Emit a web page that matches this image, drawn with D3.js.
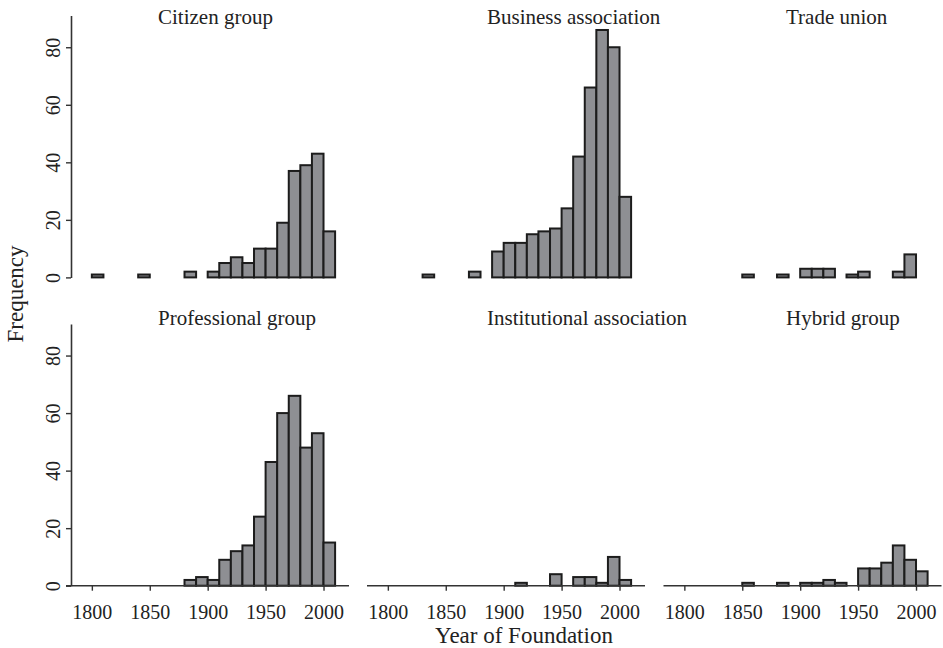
<!DOCTYPE html>
<html>
<head>
<meta charset="utf-8">
<script src="https://cdn.jsdelivr.net/npm/d3@7"></script>
<style>
  body { margin: 0; background: #fff; }
  svg text { font-family: "Liberation Serif", "Times New Roman", Times, "DejaVu Serif", serif; fill: #222; }
</style>
</head>
<body>
<div id="container"></div>
<script>
// start year of each 10-year bin
let binStarts = [1800, 1810, 1820, 1830, 1840, 1850, 1860, 1870, 1880, 1890, 1900,
                 1910, 1920, 1930, 1940, 1950, 1960, 1970, 1980, 1990, 2000];

let groupNames = ["Citizen group", "Business association", "Trade union",
                  "Professional group", "Institutional association", "Hybrid group"];

// frequencies per bin
let citizenCounts      = [1, 0, 0, 0, 1, 0, 0, 0, 2, 0, 2, 5, 7, 5, 10, 10, 19, 37, 39, 43, 16];
let businessCounts     = [0, 0, 0, 1, 0, 0, 0, 2, 0, 9, 12, 12, 15, 16, 17, 24, 42, 66, 86, 80, 28];
let tradeUnionCounts   = [0, 0, 0, 0, 0, 1, 0, 0, 1, 0, 3, 3, 3, 0, 1, 2, 0, 0, 2, 8, 0];
let professionalCounts = [0, 0, 0, 0, 0, 0, 0, 0, 2, 3, 2, 9, 12, 14, 24, 43, 60, 66, 48, 53, 15];
let institutionCounts  = [0, 0, 0, 0, 0, 0, 0, 0, 0, 0, 0, 1, 0, 0, 4, 0, 3, 3, 1, 10, 2];
let hybridCounts       = [0, 0, 0, 0, 0, 1, 0, 0, 1, 0, 1, 1, 2, 1, 0, 6, 6, 8, 14, 9, 5];

let xTickValues = [1800, 1850, 1900, 1950, 2000];
let yTickValues = [0, 20, 40, 60, 80];

let allCounts = [citizenCounts, businessCounts, tradeUnionCounts,
                 professionalCounts, institutionCounts, hybridCounts];

let w = 943;
let h = 648;
let binWidth = 10;
let serif = "'Liberation Serif', 'Times New Roman', Times, 'DejaVu Serif', serif";

// layout of the 3x2 grid
let panelLeft = [71, 367, 663.5];
let panelW = 278;
let rowBase = [277.4, 585.7];
let panelH = 261.8;
let titleX = [158, 487, 786];
let titleY = [24, 325];

let viz = d3.select("#container")
  .append("svg")
    .attr("width", w)
    .attr("height", h)
;

let xScale = d3.scaleLinear().domain([1782, 2022]).range([0, panelW]);

groupNames.forEach(function(name, i){
  let col = i % 3;
  let row = Math.floor(i / 3);
  let yScale = d3.scaleLinear().domain([0, 91]).range([rowBase[row], rowBase[row] - panelH]);

  let panel = viz.append("g")
      .attr("transform", "translate(" + panelLeft[col] + ",0)")
  ;

  let bins = binStarts.map(function(b, j){
    return { start: b, count: allCounts[i][j] };
  }).filter(function(d){ return d.count > 0; });

  panel.selectAll(".bar").data(bins).enter()
    .append("rect")
      .attr("class", "bar")
      .attr("x", function(d){ return xScale(d.start); })
      .attr("width", function(d){ return xScale(d.start + binWidth) - xScale(d.start); })
      .attr("y", function(d){ return yScale(d.count); })
      .attr("height", function(d){ return yScale(0) - yScale(d.count); })
      .attr("fill", "#8e8f93")
      .attr("stroke", "#1c1c1c")
      .attr("stroke-width", 2)
  ;

  // panel title
  panel.append("text")
      .attr("x", titleX[col] - panelLeft[col])
      .attr("y", titleY[row])
      .style("font-family", serif)
      .style("font-size", "21px")
      .text(name)
  ;

  // x axis only on bottom row
  if (row == 1) {
    let xAxis = d3.axisBottom(xScale)
      .tickValues(xTickValues)
      .tickFormat(d3.format("d"))
      .tickSize(5)
      .tickPadding(14)
      .tickSizeOuter(0)
    ;
    let xAxisGroup = panel.append("g")
        .attr("class", "xaxisgroup")
        .attr("transform", "translate(0," + rowBase[row] + ")")
        .call(xAxis)
    ;
    xAxisGroup.select(".domain").remove();
    xAxisGroup.append("line")
        .attr("x1", col == 0 ? -5 : 0)
        .attr("x2", panelW)
        .attr("stroke", "#333")
        .attr("stroke-width", 1.6)
    ;
    xAxisGroup.selectAll(".tick line").attr("stroke", "#333").attr("stroke-width", 1.4);
    xAxisGroup.selectAll(".tick text")
        .style("font-family", serif)
        .style("font-size", "20px")
        .attr("fill", "#222")
    ;
  }

  // y axis only on left column
  if (col == 0) {
    let yAxis = d3.axisLeft(yScale)
      .tickValues(yTickValues)
      .tickSize(5)
      .tickSizeOuter(0)
    ;
    let yAxisGroup = panel.append("g")
        .attr("class", "yaxisgroup")
        .call(yAxis)
    ;
    yAxisGroup.select(".domain").attr("stroke", "#333").attr("stroke-width", 1.6);
    yAxisGroup.selectAll(".tick line").attr("stroke", "#333").attr("stroke-width", 1.4);
    yAxisGroup.selectAll(".tick text")
        .style("font-family", serif)
        .style("font-size", "20px")
        .attr("fill", "#222")
        .attr("x", null)
        .attr("dy", null)
        .attr("text-anchor", "middle")
        .attr("transform", "translate(-11,0) rotate(-90)")
    ;
  }
});

// axis titles
viz.append("text")
    .attr("x", 524)
    .attr("y", 643)
    .attr("text-anchor", "middle")
    .style("font-family", serif)
    .style("font-size", "23px")
    .text("Year of Foundation")
;
viz.append("text")
    .attr("transform", "translate(23,294) rotate(-90)")
    .attr("text-anchor", "middle")
    .style("font-family", serif)
    .style("font-size", "23px")
    .text("Frequency")
;
</script>
</body>
</html>
